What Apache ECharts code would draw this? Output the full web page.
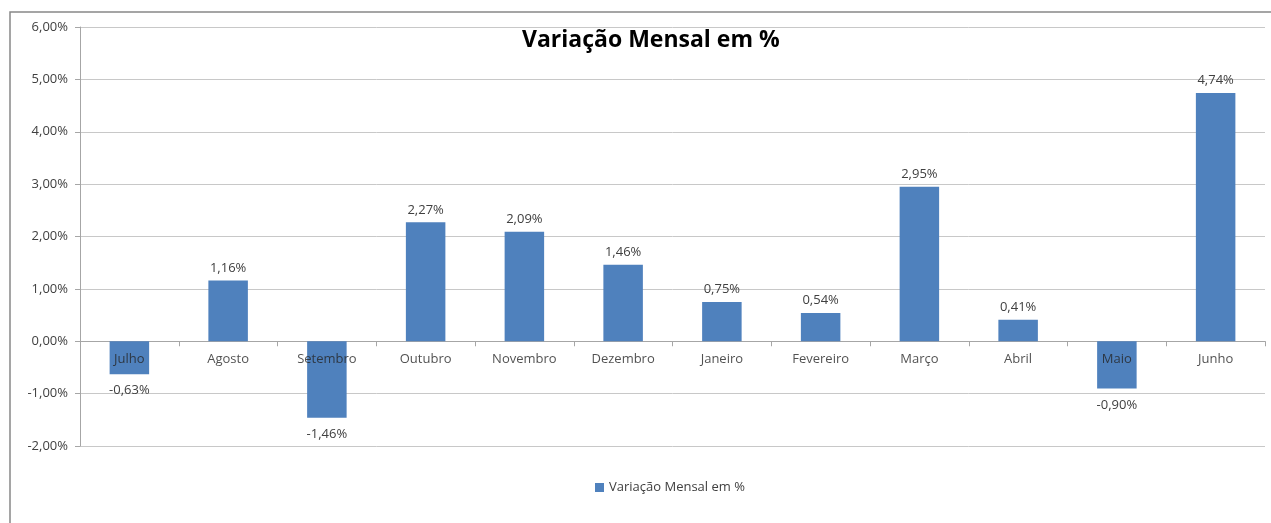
<!DOCTYPE html>
<html><head><meta charset="utf-8">
<script src="https://cdn.jsdelivr.net/npm/echarts@6/dist/echarts.min.js"></script>
<style>html,body{margin:0;padding:0;background:#fff}#c{width:1271px;height:523px}</style>
</head><body><div id="c"></div>
<script>
const categories = ['Julho','Agosto','Setembro','Outubro','Novembro','Dezembro','Janeiro','Fevereiro','Março','Abril','Maio','Junho'];
const values = [-0.63, 1.16, -1.46, 2.27, 2.09, 1.46, 0.75, 0.54, 2.95, 0.41, -0.90, 4.74];
const seriesName = 'Variação Mensal em %';
const titleText = 'Variação Mensal em %';

const fmt = v => v.toFixed(2).replace('.', ',') + '%';
const font = '"Open Sans", "Liberation Sans", sans-serif';
const chart = echarts.init(document.getElementById('c'), null, {renderer: 'canvas'});
chart.setOption({
  animation: false,
  backgroundColor: '#fff',
  title: {text: titleText, left: 517, top: 24, textStyle: {fontFamily: font, fontWeight: 'bold', fontSize: 23, color: '#000'}},
  legend: {top: 476, left: 590, itemWidth: 9, itemHeight: 9, itemGap: 5, icon: 'rect', textStyle: {fontFamily: font, fontSize: 13, color: '#404040'}, data: [seriesName]},
  graphic: [{type: 'rect', shape: {x: 10, y: 12, width: 1300, height: 600}, style: {fill: 'none', stroke: '#888', lineWidth: 1.5}, silent: true}],
  grid: {left: 80, right: 6, top: 27, bottom: 77},
  xAxis: {
    type: 'category', data: categories,
    axisLine: {onZero: true, lineStyle: {color: '#a6a6a6'}},
    axisTick: {show: true, length: 5, lineStyle: {color: '#a6a6a6'}},
    axisLabel: {show: false},
    splitLine: {show: false}
  },
  yAxis: {
    type: 'value', min: -2, max: 6, interval: 1,
    axisLine: {show: true, lineStyle: {color: '#a6a6a6'}},
    axisTick: {show: true, length: 5, lineStyle: {color: '#a6a6a6'}},
    axisLabel: {fontFamily: font, fontSize: 13, color: '#404040', formatter: v => fmt(v), margin: 12},
    splitLine: {lineStyle: {color: '#c8c8c8'}}
  },
  series: [{
    name: seriesName, type: 'bar', barWidth: '40%',
    itemStyle: {color: '#4f81bd'},
    data: values.map(v => ({value: v, label: {position: v < 0 ? 'bottom' : 'top', distance: v < 0 ? 10 : 6}})),
    label: {show: true, fontFamily: font, fontSize: 13, color: '#404040', formatter: p => fmt(p.value)},
    z: 2
  }, {
    name: 'cats', type: 'scatter', symbolSize: 0, silent: true,
    data: categories.map(c => [c, 0]),
    label: {show: true, position: 'bottom', distance: 12, fontFamily: font, fontSize: 13, color: '#262626', formatter: p => p.value[0]},
    z: 5
  }]
});
</script></body></html>
